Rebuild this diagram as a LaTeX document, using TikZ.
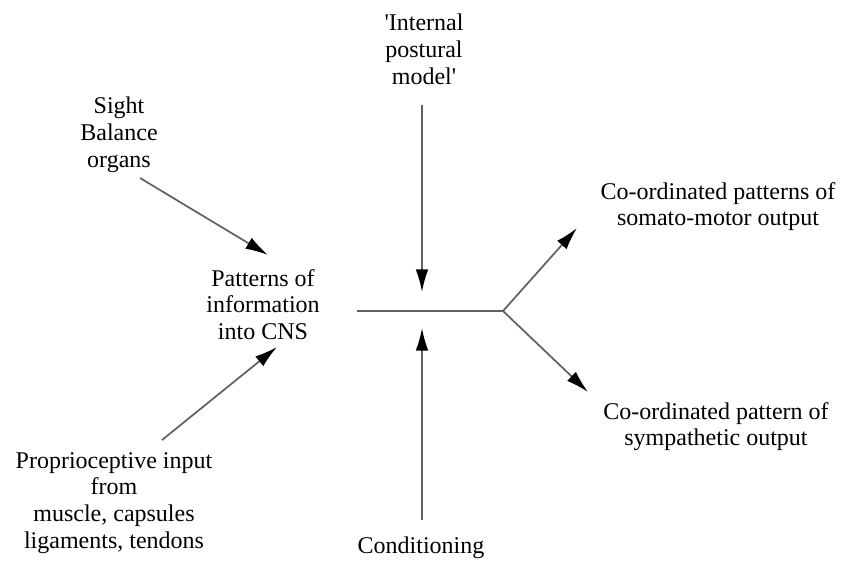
\documentclass[tikz,border=0pt]{standalone}
\usepackage{fontspec}
\setmainfont{Liberation Serif}[Ligatures=TeXOff]
\usetikzlibrary{arrows.meta}
\begin{document}
\begin{tikzpicture}[x=0.75pt,y=-0.75pt,
  lbl/.style={anchor=north,inner sep=0pt,align=center,
    font=\fontsize{18}{20}\selectfont},
  conn/.style={draw=black!62,line width=1.3pt},
  arr/.style={conn,-{Latex[length=17pt,width=9.5pt,color=black]}}]
\useasboundingbox (0,0) rectangle (854,561);
\fill[white] (0,0) rectangle (854,561);

% labels
\node[lbl] (sight)    at (119,97)  {Sight\\Balance\\organs};
\node[lbl] (internal) at (424,14)  {'Internal\\postural\\model'};
\node[lbl] (patterns) at (263,269) {Patterns of\\information\\into CNS};
\node[lbl] (somato)   at (718,182) {Co-ordinated patterns of\\somato-motor output};
\node[lbl] (sympa)    at (716,402) {Co-ordinated pattern of\\sympathetic output};
\node[lbl] (proprio)  at (114,452) {Proprioceptive input\\from\\muscle, capsules\\ligaments, tendons};
\node[lbl] (cond)     at (421,537) {Conditioning};

% connector end points
\coordinate (sightS)  at (140,178);
\coordinate (sightE)  at (268,255);
\coordinate (propS)   at (162,440);
\coordinate (propE)   at (277,347);
\coordinate (intS)    at (422,105);
\coordinate (intE)    at (422,292);
\coordinate (condS)   at (422,520);
\coordinate (condE)   at (422,328);
\coordinate (barL)    at (357,311);
\coordinate (junc)    at (503,311);
\coordinate (upE)     at (577,228);
\coordinate (downE)   at (588,392);

% connectors
\draw[arr] (sightS) -- (sightE);
\draw[arr] (propS) -- (propE);
\draw[arr] (intS) -- (intE);
\draw[arr] (condS) -- (condE);
\draw[conn] (barL) -- (junc);
\draw[arr] (junc) -- (upE);
\draw[arr] (junc) -- (downE);
\end{tikzpicture}
\end{document}
